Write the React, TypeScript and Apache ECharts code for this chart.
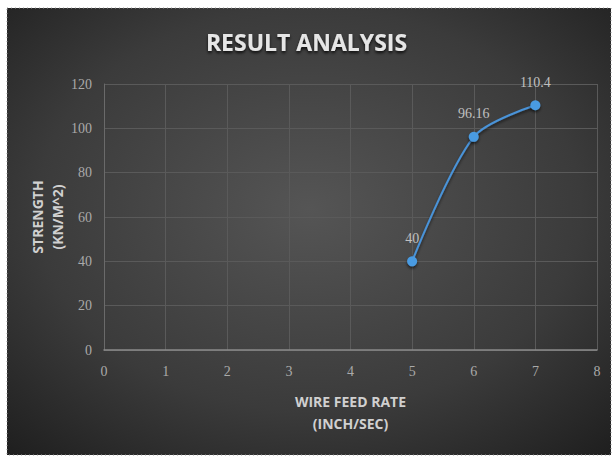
import React, { useEffect, useRef } from "react";
import * as echarts from "echarts";

const xValues = [5, 6, 7];
const strength = [40, 96.16, 110.4];
const xTicks = [0, 1, 2, 3, 4, 5, 6, 7, 8];
const yTicks = [0, 20, 40, 60, 80, 100, 120];

export default function App() {
  const ref = useRef<HTMLDivElement>(null);

  useEffect(() => {
    if (!ref.current) return;
    const chart = echarts.init(ref.current, undefined, { renderer: "svg" });
    const labelFont = "'Liberation Serif', serif";
    const titleFont = "'Open Sans', sans-serif";
    chart.setOption({
      animation: false,
      backgroundColor: "#ffffff",
      graphic: [
        {
          type: "rect",
          z: -10,
          silent: true,
          shape: { x: 7, y: 8, width: 604, height: 447 },
          style: {
            fill: new echarts.graphic.RadialGradient(0.5, 0.45, 0.75, [
              { offset: 0, color: "#555555" },
              { offset: 0.6, color: "#3b3b3b" },
              { offset: 1, color: "#1e1e1e" },
            ]),
            stroke: "#9a9a9a",
            lineWidth: 1,
            lineDash: [1, 3],
          },
        },
        {
          type: "text",
          x: 47,
          y: 217,
          rotation: Math.PI / 2,
          silent: true,
          style: {
            text: "STRENGTH\n(KN/M^2)",
            fill: "#d0d0d0",
            font: `bold 14px ${titleFont}`,
            align: "center",
            verticalAlign: "middle",
            lineHeight: 20,
          },
        },
      ],
      title: {
        text: "RESULT ANALYSIS",
        left: "center",
        top: 25,
        textStyle: {
          color: "#e6e6e6",
          fontFamily: titleFont,
          fontWeight: "bold",
          fontSize: 23,
          textShadowColor: "rgba(0,0,0,0.8)",
          textShadowBlur: 3,
          textShadowOffsetY: 2,
        },
      },
      grid: { left: 104, right: 16, top: 84, bottom: 107 },
      xAxis: {
        type: "value",
        min: 0,
        max: 8,
        interval: 1,
        name: "WIRE FEED RATE\n(INCH/SEC)",
        nameLocation: "middle",
        nameGap: 40,
        nameTextStyle: {
          color: "#d0d0d0",
          fontFamily: titleFont,
          fontWeight: "bold",
          fontSize: 14,
          lineHeight: 22,
        },
        axisLine: { show: true, lineStyle: { color: "#8a8a8a", width: 1.5 } },
        axisTick: { show: false },
        axisLabel: {
          color: "#aaaaaa",
          fontFamily: labelFont,
          fontSize: 14,
          margin: 14,
          formatter: (v: number) => (xTicks.includes(v) ? String(v) : ""),
        },
        splitLine: { show: true, lineStyle: { color: "#5a5a5a", width: 1 } },
      },
      yAxis: {
        type: "value",
        min: 0,
        max: 120,
        interval: 20,
        axisLine: { show: true, lineStyle: { color: "#6a6a6a", width: 1 } },
        axisTick: { show: false },
        axisLabel: {
          color: "#aaaaaa",
          fontFamily: labelFont,
          fontSize: 14,
          margin: 12,
          formatter: (v: number) => (yTicks.includes(v) ? String(v) : ""),
        },
        splitLine: { show: true, lineStyle: { color: "#5a5a5a", width: 1 } },
      },
      series: [
        {
          type: "line",
          data: xValues.map((x, i) => [x, strength[i]]),
          smooth: 0.3,
          symbol: "circle",
          symbolSize: 10,
          lineStyle: { color: "#4a93d8", width: 2, shadowColor: "rgba(0,0,0,0.6)", shadowBlur: 3, shadowOffsetY: 2 },
          itemStyle: { color: "#4a9be2", shadowColor: "rgba(0,0,0,0.6)", shadowBlur: 3, shadowOffsetY: 2 },
          label: {
            show: true,
            position: "top",
            distance: 11,
            color: "#c0c0c0",
            fontFamily: labelFont,
            fontSize: 14,
            formatter: (p: any) => String(p.value[1]),
          },
        },
      ],
    });
    return () => chart.dispose();
  }, []);

  return (
    <div
      ref={ref}
      style={{ position: "absolute", left: 0, top: 0, width: 613, height: 457 }}
    />
  );
}
